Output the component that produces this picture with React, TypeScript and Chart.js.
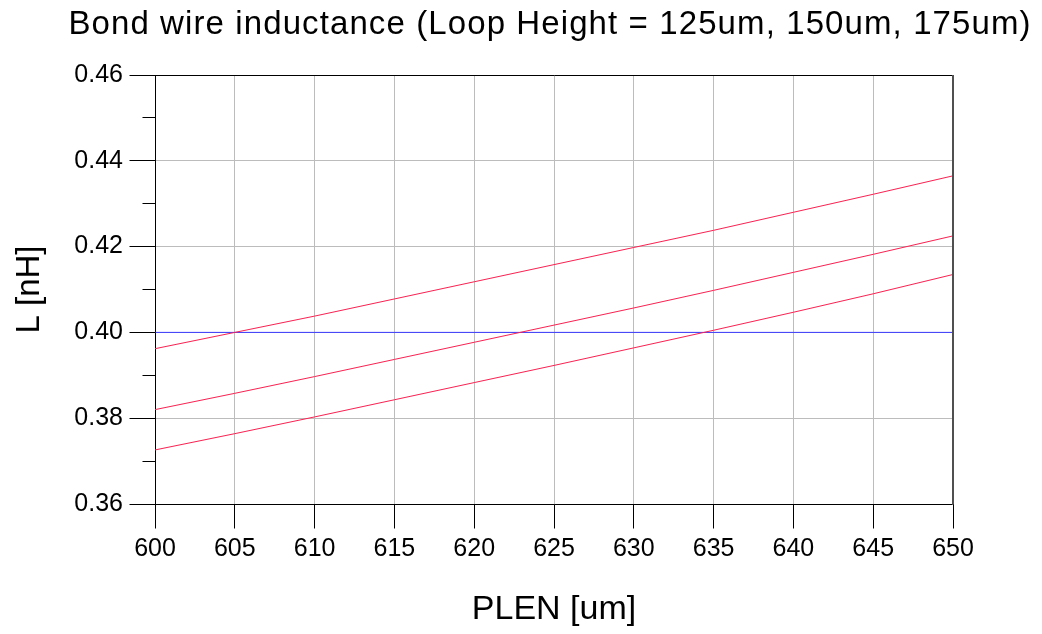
import React, { useEffect, useRef } from 'react';
import { Chart, registerables } from 'chart.js';

Chart.register(...registerables);

const TITLE = 'Bond wire inductance (Loop Height = 125um, 150um, 175um)';
const X_TITLE = 'PLEN [um]';
const Y_TITLE = 'L [nH]';

const plen = [600, 605, 610, 615, 620, 625, 630, 635, 640, 645, 650];
const L175 = [0.3962, 0.4000, 0.4038, 0.4078, 0.4118, 0.4158, 0.4198, 0.4238, 0.4280, 0.4322, 0.4365];
const L150 = [0.3820, 0.3858, 0.3897, 0.3937, 0.3977, 0.4017, 0.4057, 0.4098, 0.4140, 0.4182, 0.4225];
const L125 = [0.3726, 0.3764, 0.3803, 0.3843, 0.3883, 0.3923, 0.3964, 0.4005, 0.4047, 0.4090, 0.4135];
const targetX = [600, 650];
const targetL = [0.40, 0.40];

const xMin = 600, xMax = 650, xStep = 5;
const yMin = 0.36, yMax = 0.46, yStep = 0.02;
const yMinorTicks = [0.37, 0.39, 0.41, 0.43, 0.45];

const FONT = '"Liberation Sans", Arial, sans-serif';

const toPts = (xs: number[], ys: number[]) => xs.map((x, i) => ({ x, y: ys[i] }));
const align = (p: number) => Math.round(p - 0.5) + 0.5;

const framePlugin = {
  id: 'frame',
  afterDraw(chart: any) {
    const { ctx, chartArea } = chart;
    const { left, right, top, bottom } = chartArea;
    const Lp = align(left), Bp = align(bottom), Tp = align(top);
    ctx.save();
    // top border
    ctx.strokeStyle = '#000000';
    ctx.lineWidth = 1;
    ctx.beginPath();
    ctx.moveTo(Lp, Tp);
    ctx.lineTo(align(right), Tp);
    ctx.stroke();
    // right border
    ctx.strokeStyle = '#505050';
    ctx.lineWidth = 2;
    ctx.beginPath();
    ctx.moveTo(Math.round(right), Math.round(top));
    ctx.lineTo(Math.round(right), Math.round(bottom) + 1);
    ctx.stroke();
    // tick marks (outside), black
    const ys = chart.scales.y;
    const xs = chart.scales.x;
    ctx.strokeStyle = '#000000';
    ctx.lineWidth = 1;
    yMinorTicks.forEach((v) => {
      const py = align(ys.getPixelForValue(v));
      ctx.beginPath();
      ctx.moveTo(Lp - 13, py);
      ctx.lineTo(Lp, py);
      ctx.stroke();
    });
    ys.ticks.forEach((t: any) => {
      const py = align(ys.getPixelForValue(t.value));
      ctx.beginPath();
      ctx.moveTo(Lp - 26, py);
      ctx.lineTo(Lp, py);
      ctx.stroke();
    });
    xs.ticks.forEach((t: any) => {
      const px = align(xs.getPixelForValue(t.value));
      ctx.beginPath();
      ctx.moveTo(px, Bp);
      ctx.lineTo(px, Bp + 24);
      ctx.stroke();
    });
    // title
    ctx.fillStyle = '#000000';
    ctx.font = `33px ${FONT}`;
    (ctx as any).letterSpacing = '1.1px';
    ctx.textAlign = 'center';
    ctx.textBaseline = 'alphabetic';
    ctx.fillText(TITLE, 550, 34);
    (ctx as any).letterSpacing = '0px';
    ctx.restore();
  },
};

export default function App() {
  const ref = useRef<HTMLCanvasElement | null>(null);

  useEffect(() => {
    if (!ref.current) return;
    const chart = new Chart(ref.current, {
      type: 'line',
      data: {
        datasets: [
          { label: '175um', data: toPts(plen, L175), borderColor: '#ff2050', borderWidth: 1, pointRadius: 0, fill: false },
          { label: '150um', data: toPts(plen, L150), borderColor: '#ff2050', borderWidth: 1, pointRadius: 0, fill: false },
          { label: '125um', data: toPts(plen, L125), borderColor: '#ff2050', borderWidth: 1, pointRadius: 0, fill: false },
          { label: 'target', data: toPts(targetX, targetL), borderColor: '#3a3aff', borderWidth: 1, pointRadius: 0, fill: false },
        ],
      },
      options: {
        responsive: false,
        animation: false,
        layout: { padding: { top: 75, right: 89, left: 0, bottom: 0 } },
        plugins: {
          legend: { display: false },
          title: { display: false },
          tooltip: { enabled: false },
        },
        scales: {
          x: {
            type: 'linear',
            min: xMin,
            max: xMax,
            afterFit: (s: any) => { s.height = 130; },
            ticks: {
              stepSize: xStep,
              color: '#000000',
              font: { family: FONT, size: 25 },
              padding: 6,
              maxRotation: 0,
            },
            grid: {
              color: '#bcbcbc',
              lineWidth: 1,
              tickColor: 'rgba(0,0,0,0)',
              tickLength: 24,
            },
            border: { color: '#000000', width: 1 },
            title: {
              display: true,
              text: X_TITLE,
              color: '#000000',
              font: { family: FONT, size: 34 },
              padding: { top: 0, bottom: 4 },
            },
          },
          y: {
            type: 'linear',
            min: yMin,
            max: yMax,
            afterFit: (s: any) => { s.width = 155; },
            ticks: {
              stepSize: yStep,
              color: '#000000',
              font: { family: FONT, size: 25 },
              padding: 6,
              callback: (v: any) => Number(v).toFixed(2),
            },
            grid: {
              color: '#bcbcbc',
              lineWidth: 1,
              tickColor: 'rgba(0,0,0,0)',
              tickLength: 26,
            },
            border: { color: '#000000', width: 1 },
            title: {
              display: true,
              text: Y_TITLE,
              color: '#000000',
              font: { family: FONT, size: 33 },
              padding: { top: 10, bottom: 0 },
            },
          },
        },
      },
      plugins: [framePlugin],
    });
    return () => chart.destroy();
  }, []);

  return (
    <div style={{ position: 'fixed', left: 0, top: 0, width: 1042, height: 634, background: '#ffffff' }}>
      <canvas ref={ref} width={1042} height={634} style={{ display: 'block' }} />
    </div>
  );
}
